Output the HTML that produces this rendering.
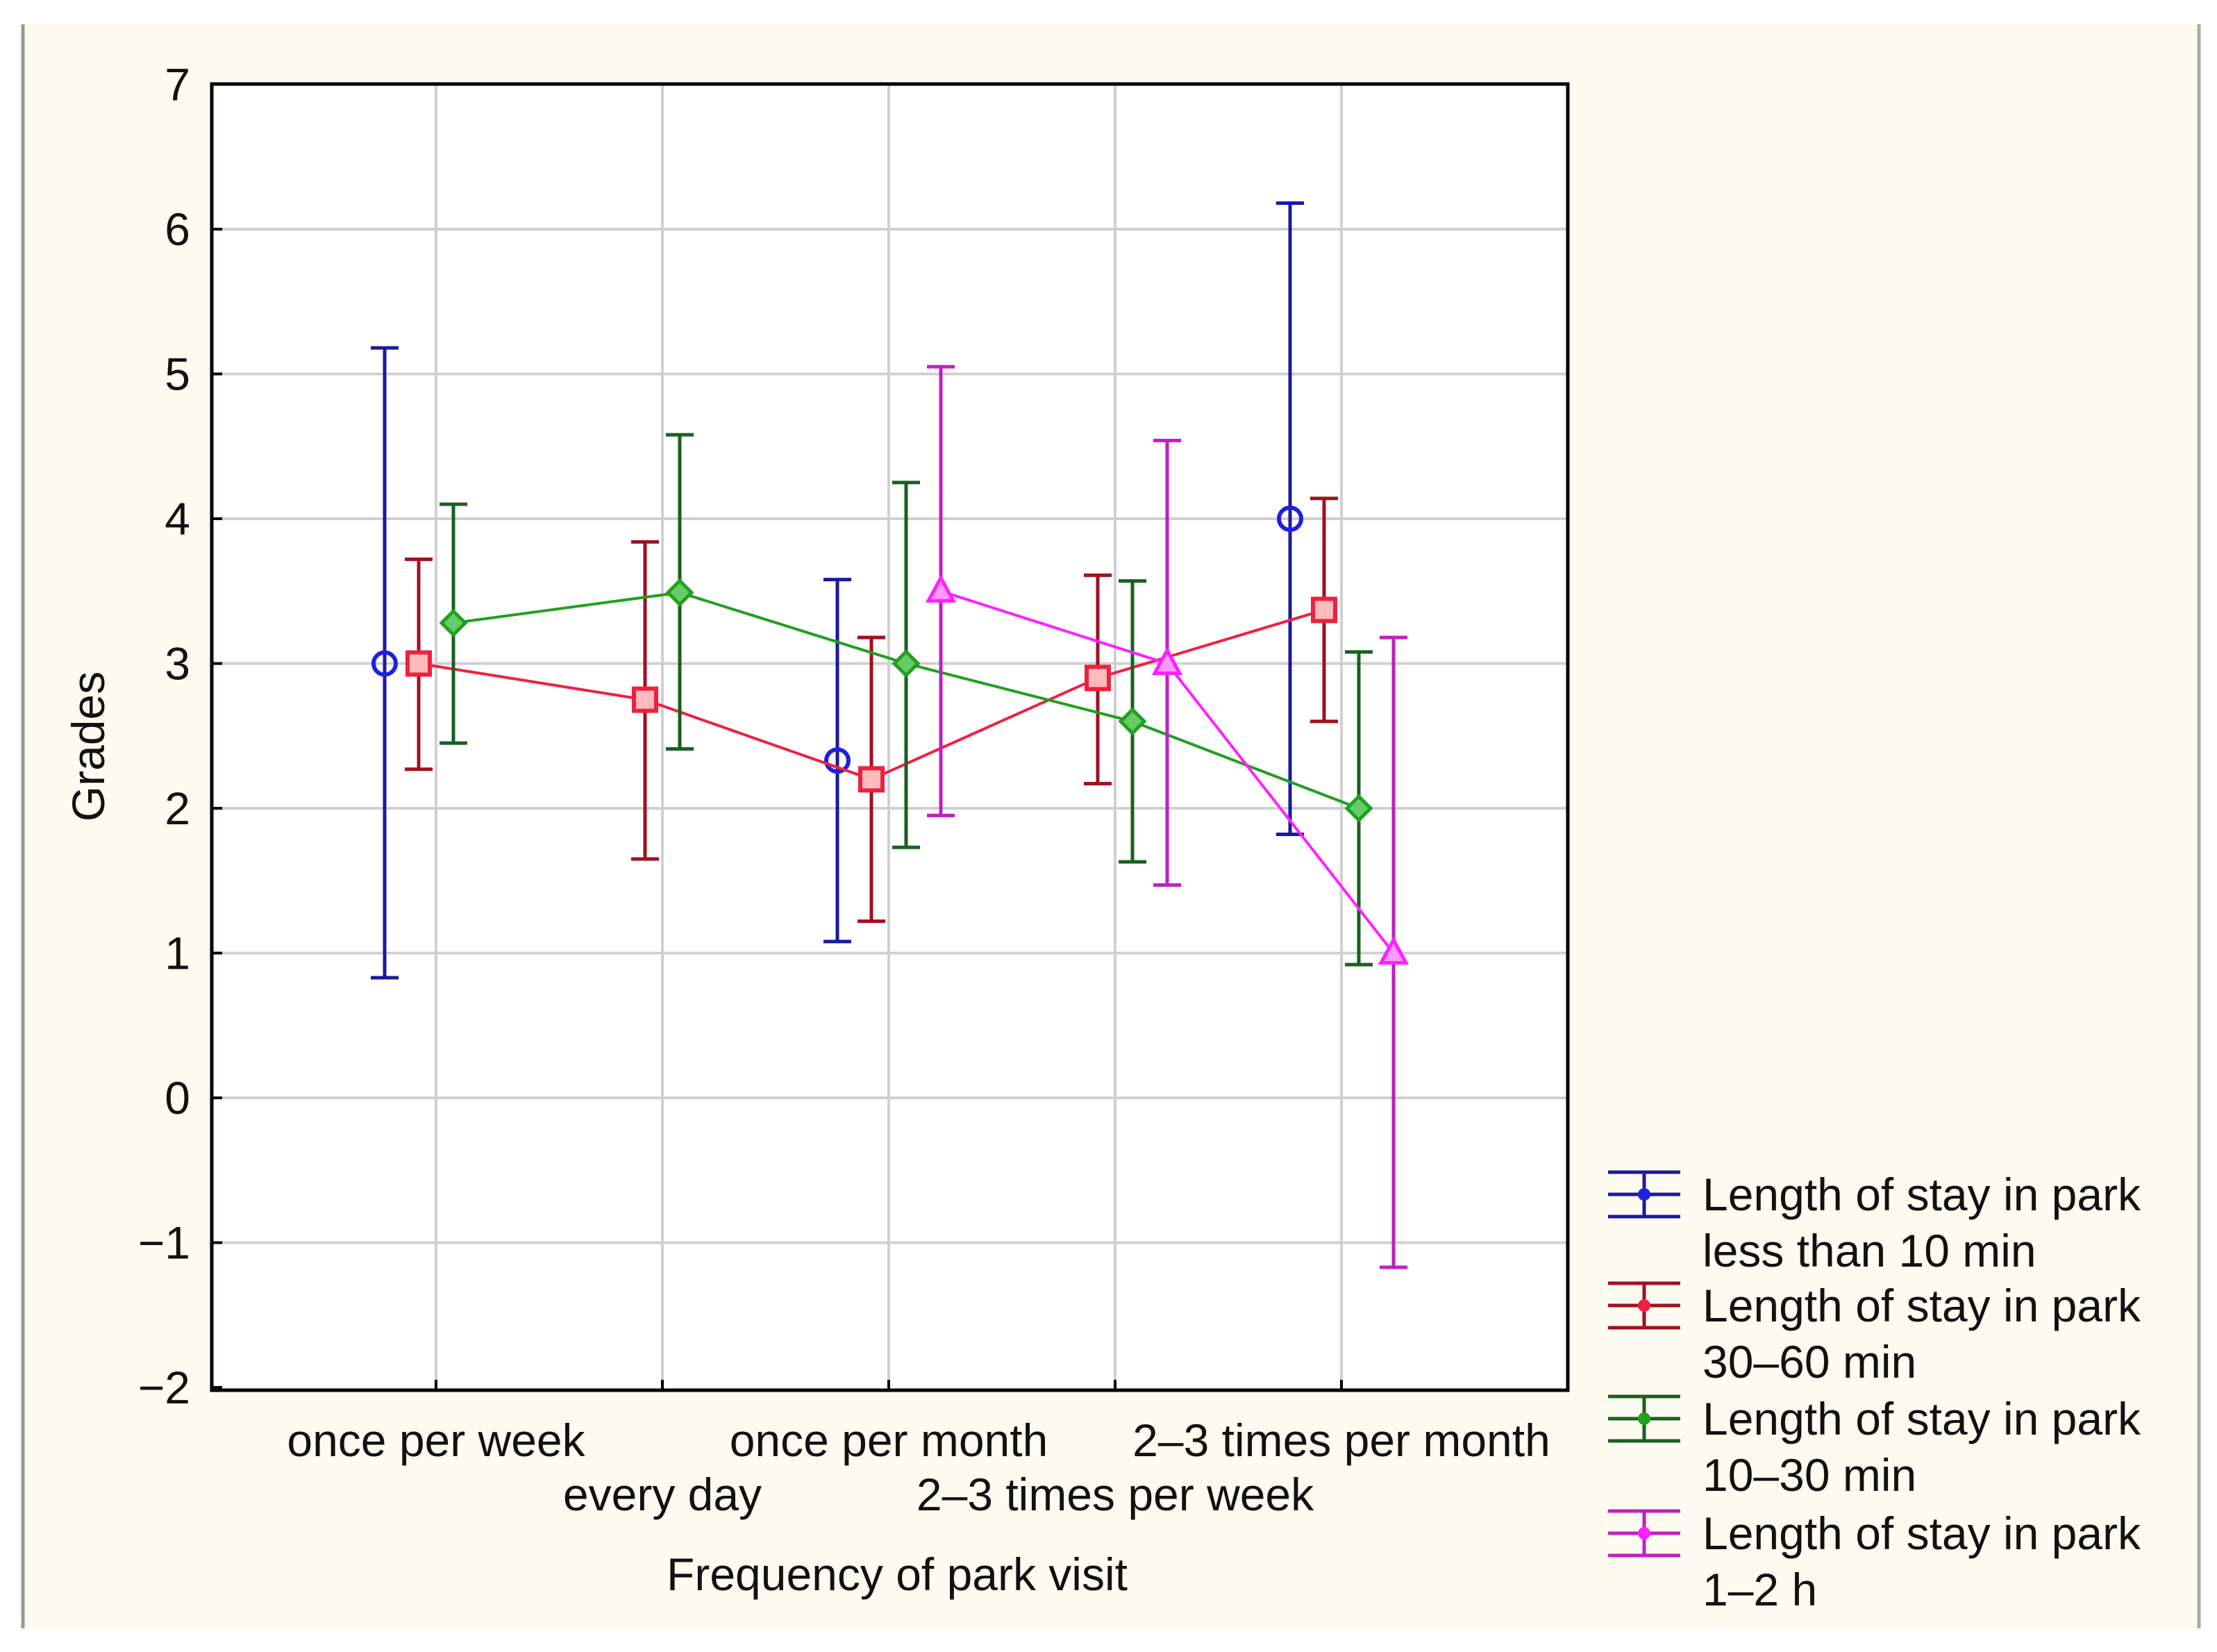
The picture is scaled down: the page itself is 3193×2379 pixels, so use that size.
<!DOCTYPE html>
<html><head><meta charset="utf-8"><style>
html,body{margin:0;padding:0;background:#fff;}
svg{display:block;font-family:"Liberation Sans",Arial,sans-serif;}
</style></head><body>
<svg id="chart" width="3193" height="2379" viewBox="0 0 3193 2379" xmlns="http://www.w3.org/2000/svg">
<rect x="32" y="35" width="3136" height="2310" fill="#fdfbf0"/>
<line x1="33" y1="35" x2="33" y2="2345" stroke="#999" stroke-width="5"/>
<line x1="3167" y1="35" x2="3167" y2="2345" stroke="#aaa" stroke-width="5"/>
<rect x="305" y="121" width="1953" height="1881" fill="#fff"/>
<g id="grid"></g>
<g id="marks"></g>
<rect x="305" y="121" width="1953" height="1881" fill="none" stroke="#000" stroke-width="5"/>
<g id="axes"></g>
<text x="1292" y="2290" font-size="66" text-anchor="middle" fill="#111">Frequency of park visit</text>
<text transform="translate(150,1075) rotate(-90)" font-size="66" text-anchor="middle" fill="#111">Grades</text>
<g id="legend"></g>
</svg>
<script>
const categories = ["once per week","every day","once per month","2–3 times per week","2–3 times per month"];
const yTicks = [7,6,5,4,3,2,1,0,-1,-2];
const seriesNames = ["Length of stay in park|less than 10 min","Length of stay in park|30–60 min","Length of stay in park|10–30 min","Length of stay in park|1–2 h"];
const blueMean = [3.0,null,2.33,null,4.0];
const blueLow  = [0.83,null,1.08,null,1.82];
const blueHigh = [5.18,null,3.58,null,6.18];
const redMean = [3.0,2.75,2.2,2.9,3.37];
const redLow  = [2.27,1.65,1.22,2.17,2.6];
const redHigh = [3.72,3.84,3.18,3.61,4.14];
const greenMean = [3.28,3.49,3.0,2.6,2.0];
const greenLow  = [2.45,2.41,1.73,1.63,0.92];
const greenHigh = [4.1,4.58,4.25,3.57,3.08];
const magMean = [null,null,3.5,3.0,1.0];
const magLow  = [null,null,1.95,1.47,-1.17];
const magHigh = [null,null,5.05,4.54,3.18];

const NS="http://www.w3.org/2000/svg";
const Y=v=>747-(v-4)*208.5;
const X=i=>628+326*i;
function mk(parent,tag,attrs){const e=document.createElementNS(NS,tag);for(const k in attrs)e.setAttribute(k,attrs[k]);parent.appendChild(e);return e;}
const grid=document.getElementById('grid'),axes=document.getElementById('axes'),marks=document.getElementById('marks'),legend=document.getElementById('legend');
yTicks.forEach(v=>{
  if(v<7&&v>-2){const g=mk(grid,'line',{x1:305,x2:2258,y1:Y(v),y2:Y(v),stroke:'#d0d0d0','stroke-width':4});
  
  }
  const tk=mk(axes,'line',{x1:305,x2:320,y1:Y(v),y2:Y(v),stroke:'#000','stroke-width':4});
  
  
  const t=mk(axes,'text',{x:274,y:Y(v)+23,'font-size':66,'text-anchor':'end',fill:'#111'});
  t.textContent=(v<0?'−'+(-v):v);
  
  
});
categories.forEach((c,i)=>{
  const g=mk(grid,'line',{x1:X(i),x2:X(i),y1:121,y2:2002,stroke:'#d0d0d0','stroke-width':4});
  
  
  const tk=mk(axes,'line',{x1:X(i),x2:X(i),y1:2002,y2:1987,stroke:'#000','stroke-width':4});
  
  
  const t=mk(axes,'text',{x:X(i),y:(i%2==0?2097:2175),'font-size':66,'text-anchor':'middle',fill:'#111'});
  t.textContent=c;
  
  
});
const series=[
 {m:blueMean,l:blueLow,h:blueHigh,off:-74,col:'#1a1aa0',mc:'#2020e0',shape:'circle',line:false,name:'blue'},
 {m:redMean,l:redLow,h:redHigh,off:-25,col:'#a01020',mc:'#f02040',shape:'square',line:true,name:'red'},
 {m:greenMean,l:greenLow,h:greenHigh,off:25,col:'#1a6020',mc:'#20a020',shape:'diamond',line:true,name:'green'},
 {m:magMean,l:magLow,h:magHigh,off:75,col:'#c020c0',mc:'#ff20ff',shape:'triangle',line:true,name:'magenta'}];
function marker(p,shape,x,y,c){
  let e;
  if(shape=='circle')e=mk(p,'circle',{cx:x,cy:y,r:16,fill:'none',stroke:c,'stroke-width':6});
  else if(shape=='square')e=mk(p,'rect',{x:x-16,y:y-16,width:32,height:32,fill:'#fbb',stroke:c,'stroke-width':6});
  else if(shape=='diamond')e=mk(p,'polygon',{points:`${x},${y-17} ${x+17},${y} ${x},${y+17} ${x-17},${y}`,fill:'#6c6',stroke:c,'stroke-width':5});
  else e=mk(p,'polygon',{points:`${x},${y-19} ${x+18},${y+14} ${x-18},${y+14}`,fill:'#f9f',stroke:c,'stroke-width':5});
  return e;
}
series.forEach(s=>{
  if(s.line){let pts=[];s.m.forEach((v,i)=>{if(v!==null)pts.push(`${X(i)+s.off},${Y(v)}`);});
    const pl=mk(marks,'polyline',{points:pts.join(' '),fill:'none',stroke:s.mc,'stroke-width':4});
    
    }
  s.m.forEach((v,i)=>{if(v===null)return;const x=X(i)+s.off;
    const eb=mk(marks,'path',{d:`M${x},${Y(s.l[i])}V${Y(s.h[i])}M${x-20},${Y(s.l[i])}h40M${x-20},${Y(s.h[i])}h40`,stroke:s.col,'stroke-width':5,fill:'none'});
    
    
    const mm=marker(marks,s.shape,x,Y(v),s.mc);
    
    });
});
const legY=[1720,1880,2043,2208];
series.forEach((s,k)=>{
  const cy=legY[k],x=2368;
  const ic=mk(legend,'path',{d:`M2316,${cy-32}h104M2316,${cy}h104M2316,${cy+32}h104M${x},${cy-32}V${cy+32}`,stroke:s.col,'stroke-width':5,fill:'none'});
  
  
  const dot=mk(legend,'circle',{cx:x,cy:cy,r:9,fill:s.mc});
  
  
  const parts=seriesNames[k].split('|');
  parts.forEach((p,j)=>{const t=mk(legend,'text',{x:2452,y:legY[k]+23+j*81,'font-size':66,fill:'#111'});
    t.textContent=p;
    
    });
});
</script>
</body></html>
